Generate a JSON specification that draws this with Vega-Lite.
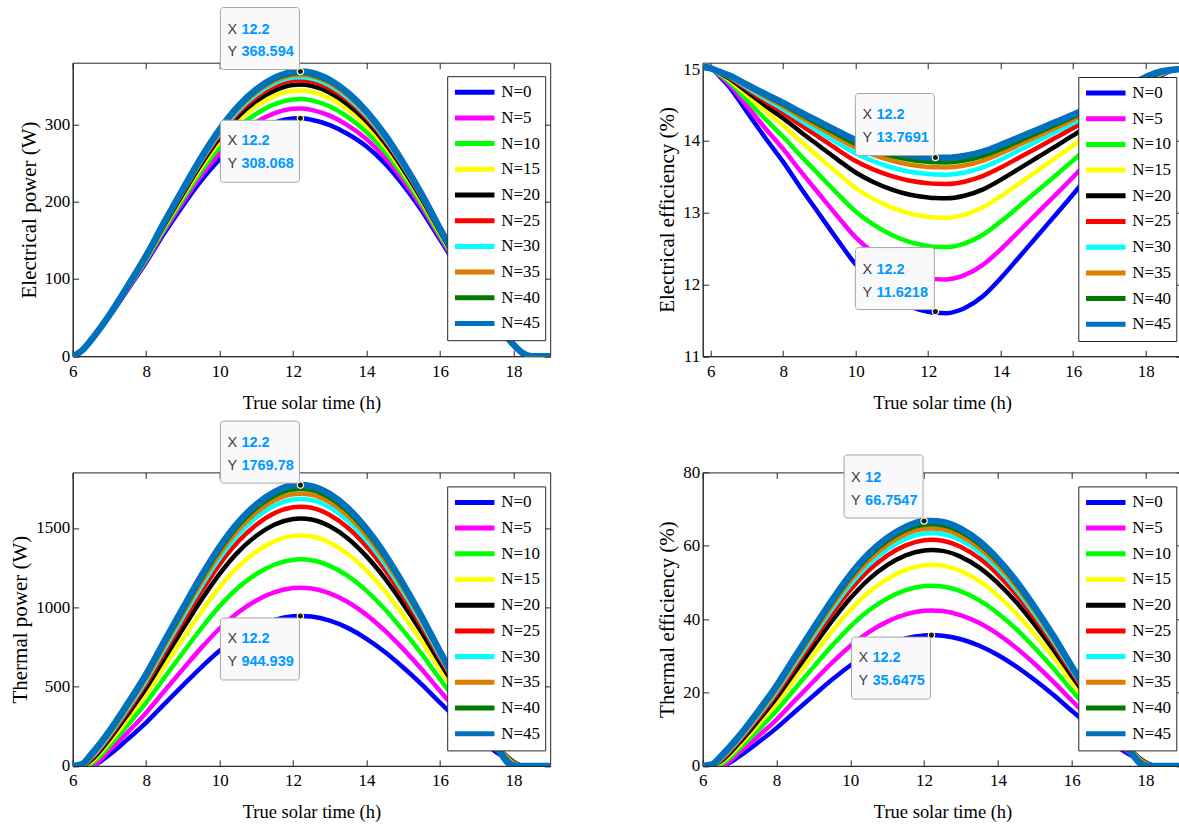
{
"$schema": "https://vega.github.io/schema/vega-lite/v6.json",
"background": "white",
"padding": {"left": 8.7, "top": 5.7, "right": 0, "bottom": 0},
"config": {
 "font": "Liberation Serif",
 "view": {"stroke": "#262626", "strokeWidth": 1},
 "axis": {"grid": false, "domainColor": "#262626", "tickColor": "#262626", "labelColor": "#000000", "labelFont": "Liberation Serif", "labelFontSize": 17, "titleFont": "Liberation Serif", "titleFontWeight": "normal", "titleColor": "#000000", "tickSize": -6, "labelFlush": false, "labelOverlap": false, "labelBound": false, "format": "d"},
 "axisX": {"titleFontSize": 18.5, "labelPadding": 13, "titlePadding": 14},
 "axisY": {"titleFontSize": 21, "labelPadding": 9, "titlePadding": 5},
 "legend": {"labelFont": "Liberation Serif", "labelFontSize": 17, "labelFontWeight": "normal", "labelColor": "#000000", "symbolType": "stroke", "symbolStrokeWidth": 5, "symbolSize": 1560, "clipHeight": 22, "rowPadding": 3.7, "padding": 5, "strokeColor": "#262626", "fillColor": "white", "labelOffset": 4, "labelLimit": 200}
},
"datasets": {
"elp": [
{"t":6,"N=0":0,"N=5":0,"N=10":0,"N=15":0,"N=20":0,"N=25":0,"N=30":0,"N=35":0,"N=40":0,"N=45":0},
{"t":6.25,"N=0":7.11,"N=5":7.12,"N=10":7.14,"N=15":7.15,"N=20":7.16,"N=25":7.17,"N=30":7.18,"N=35":7.19,"N=40":7.2,"N=45":7.21},
{"t":6.5,"N=0":20.34,"N=5":20.41,"N=10":20.48,"N=15":20.54,"N=20":20.59,"N=25":20.63,"N=30":20.67,"N=35":20.7,"N=40":20.73,"N=45":20.76},
{"t":7,"N=0":51.53,"N=5":51.89,"N=10":52.23,"N=15":52.55,"N=20":52.77,"N=25":52.96,"N=30":53.1,"N=35":53.22,"N=40":53.33,"N=45":53.43},
{"t":7.5,"N=0":86.37,"N=5":87.28,"N=10":88.16,"N=15":88.95,"N=20":89.53,"N=25":89.97,"N=30":90.29,"N=35":90.57,"N=40":90.8,"N=45":91.01},
{"t":8,"N=0":121.7,"N=5":123.4,"N=10":125.1,"N=15":126.6,"N=20":127.7,"N=25":128.5,"N=30":129.1,"N=35":129.5,"N=40":129.9,"N=45":130.3},
{"t":8.5,"N=0":159.7,"N=5":162.7,"N=10":165.5,"N=15":168.1,"N=20":169.9,"N=25":171.2,"N=30":172.2,"N=35":173.0,"N=40":173.6,"N=45":174.2},
{"t":9,"N=0":195.0,"N=5":199.4,"N=10":203.7,"N=15":207.6,"N=20":210.2,"N=25":212.3,"N=30":213.7,"N=35":214.8,"N=40":215.7,"N=45":216.5},
{"t":9.5,"N=0":227.4,"N=5":233.6,"N=10":239.6,"N=15":245.0,"N=20":248.7,"N=25":251.5,"N=30":253.4,"N=35":255.0,"N=40":256.2,"N=45":257.3},
{"t":10,"N=0":254.8,"N=5":262.9,"N=10":270.7,"N=15":277.8,"N=20":282.7,"N=25":286.3,"N=30":288.8,"N=35":290.8,"N=40":292.3,"N=45":293.7},
{"t":10.5,"N=0":276.6,"N=5":286.4,"N=10":295.8,"N=15":304.4,"N=20":310.2,"N=25":314.6,"N=30":317.6,"N=35":320.0,"N=40":321.8,"N=45":323.4},
{"t":11,"N=0":292.0,"N=5":303.2,"N=10":313.9,"N=15":323.8,"N=20":330.4,"N=25":335.4,"N=30":338.8,"N=35":341.5,"N=40":343.5,"N=45":345.4},
{"t":11.5,"N=0":302.5,"N=5":314.7,"N=10":326.4,"N=15":337.1,"N=20":344.2,"N=25":349.7,"N=30":353.4,"N=35":356.3,"N=40":358.5,"N=45":360.5},
{"t":12,"N=0":307.7,"N=5":320.4,"N=10":332.5,"N=15":343.7,"N=20":351.2,"N=25":356.8,"N=30":360.7,"N=35":363.7,"N=40":366.0,"N=45":368.1},
{"t":12.2,"N=0":308.068,"N=5":320.7,"N=10":332.9,"N=15":344.1,"N=20":351.7,"N=25":357.4,"N=30":361.2,"N=35":364.3,"N=40":366.6,"N=45":368.594},
{"t":12.5,"N=0":306.2,"N=5":318.9,"N=10":331.2,"N=15":342.4,"N=20":350.0,"N=25":355.7,"N=30":359.6,"N=35":362.6,"N=40":364.8,"N=45":367.0},
{"t":13,"N=0":299.2,"N=5":311.4,"N=10":323.2,"N=15":333.9,"N=20":341.2,"N=25":346.6,"N=30":350.4,"N=35":353.3,"N=40":355.5,"N=45":357.6},
{"t":13.5,"N=0":287.4,"N=5":298.5,"N=10":309.2,"N=15":319.1,"N=20":325.7,"N=25":330.7,"N=30":334.1,"N=35":336.8,"N=40":338.8,"N=45":340.7},
{"t":14,"N=0":271.6,"N=5":281.1,"N=10":290.2,"N=15":298.5,"N=20":304.2,"N=25":308.4,"N=30":311.3,"N=35":313.6,"N=40":315.4,"N=45":317.0},
{"t":14.5,"N=0":249.7,"N=5":257.4,"N=10":264.8,"N=15":271.6,"N=20":276.2,"N=25":279.6,"N=30":282.0,"N=35":283.9,"N=40":285.3,"N=45":286.7},
{"t":15,"N=0":221.6,"N=5":227.6,"N=10":233.3,"N=15":238.5,"N=20":242.1,"N=25":244.8,"N=30":246.6,"N=35":248.2,"N=40":249.3,"N=45":250.3},
{"t":15.5,"N=0":188.6,"N=5":193.0,"N=10":197.2,"N=15":201.1,"N=20":203.7,"N=25":205.7,"N=30":207.1,"N=35":208.2,"N=40":209.1,"N=45":209.9},
{"t":16,"N=0":151.0,"N=5":153.9,"N=10":156.7,"N=15":159.3,"N=20":161.1,"N=25":162.5,"N=30":163.4,"N=35":164.2,"N=40":164.8,"N=45":165.3},
{"t":16.5,"N=0":113.6,"N=5":115.3,"N=10":117.0,"N=15":118.5,"N=20":119.6,"N=25":120.4,"N=30":121.0,"N=35":121.5,"N=40":121.8,"N=45":122.2},
{"t":17,"N=0":76.1,"N=5":77.0,"N=10":77.8,"N=15":78.5,"N=20":79.0,"N=25":79.4,"N=30":79.7,"N=35":80.0,"N=40":80.2,"N=45":80.4},
{"t":17.5,"N=0":42.0,"N=5":42.3,"N=10":42.6,"N=15":42.8,"N=20":43.0,"N=25":43.2,"N=30":43.3,"N=35":43.4,"N=40":43.5,"N=45":43.5},
{"t":18,"N=0":14.85,"N=5":14.9,"N=10":14.95,"N=15":15.0,"N=20":15.03,"N=25":15.06,"N=30":15.09,"N=35":15.11,"N=40":15.14,"N=45":15.17},
{"t":18.25,"N=0":3.91,"N=5":3.92,"N=10":3.93,"N=15":3.94,"N=20":3.95,"N=25":3.96,"N=30":3.97,"N=35":3.98,"N=40":3.98,"N=45":3.99},
{"t":18.5,"N=0":0,"N=5":0,"N=10":0,"N=15":0,"N=20":0,"N=25":0,"N=30":0,"N=35":0,"N=40":0,"N=45":0},
{"t":19,"N=0":0,"N=5":0,"N=10":0,"N=15":0,"N=20":0,"N=25":0,"N=30":0,"N=35":0,"N=40":0,"N=45":0}
],
"ele": [
{"t":5.8,"N=0":15.06,"N=5":15.06,"N=10":15.06,"N=15":15.06,"N=20":15.06,"N=25":15.06,"N=30":15.06,"N=35":15.06,"N=40":15.05,"N=45":15.03},
{"t":6,"N=0":15.02,"N=5":15.02,"N=10":15.02,"N=15":15.02,"N=20":15.02,"N=25":15.02,"N=30":15.02,"N=35":15.02,"N=40":15.02,"N=45":15.01},
{"t":6.25,"N=0":14.898,"N=5":14.912,"N=10":14.926,"N=15":14.938,"N=20":14.946,"N=25":14.952,"N=30":14.956,"N=35":14.959,"N=40":14.961,"N=45":14.963},
{"t":6.5,"N=0":14.762,"N=5":14.795,"N=10":14.826,"N=15":14.855,"N=20":14.874,"N=25":14.888,"N=30":14.897,"N=35":14.904,"N=40":14.909,"N=45":14.914},
{"t":7,"N=0":14.405,"N=5":14.487,"N=10":14.566,"N=15":14.638,"N=20":14.685,"N=25":14.72,"N=30":14.743,"N=35":14.76,"N=40":14.773,"N=45":14.784},
{"t":7.5,"N=0":14.048,"N=5":14.18,"N=10":14.306,"N=15":14.42,"N=20":14.496,"N=25":14.552,"N=30":14.588,"N=35":14.616,"N=40":14.636,"N=45":14.654},
{"t":8,"N=0":13.708,"N=5":13.887,"N=10":14.058,"N=15":14.213,"N=20":14.316,"N=25":14.392,"N=30":14.441,"N=35":14.479,"N=40":14.506,"N=45":14.531},
{"t":8.5,"N=0":13.334,"N=5":13.564,"N=10":13.785,"N=15":13.986,"N=20":14.118,"N=25":14.216,"N=30":14.28,"N=35":14.329,"N=40":14.363,"N=45":14.395},
{"t":9,"N=0":12.977,"N=5":13.257,"N=10":13.524,"N=15":13.768,"N=20":13.929,"N=25":14.048,"N=30":14.125,"N=35":14.185,"N=40":14.226,"N=45":14.265},
{"t":9.5,"N=0":12.62,"N=5":12.949,"N=10":13.264,"N=15":13.551,"N=20":13.74,"N=25":13.88,"N=30":13.971,"N=35":14.041,"N=40":14.09,"N=45":14.136},
{"t":10,"N=0":12.28,"N=5":12.656,"N=10":13.016,"N=15":13.344,"N=20":13.56,"N=25":13.72,"N=30":13.824,"N=35":13.904,"N=40":13.96,"N=45":14.012},
{"t":10.5,"N=0":12.025,"N=5":12.436,"N=10":12.83,"N=15":13.189,"N=20":13.425,"N=25":13.6,"N=30":13.714,"N=35":13.801,"N=40":13.863,"N=45":13.919},
{"t":11,"N=0":11.831,"N=5":12.269,"N=10":12.689,"N=15":13.071,"N=20":13.322,"N=25":13.509,"N=30":13.63,"N=35":13.723,"N=40":13.788,"N=45":13.849},
{"t":11.5,"N=0":11.695,"N=5":12.152,"N=10":12.589,"N=15":12.988,"N=20":13.25,"N=25":13.445,"N=30":13.571,"N=35":13.668,"N=40":13.736,"N=45":13.8},
{"t":12,"N=0":11.62,"N=5":12.088,"N=10":12.535,"N=15":12.942,"N=20":13.211,"N=25":13.41,"N=30":13.539,"N=35":13.638,"N=40":13.708,"N=45":13.772},
{"t":12.2,"N=0":11.605,"N=5":12.074,"N=10":12.523,"N=15":12.933,"N=20":13.203,"N=25":13.402,"N=30":13.532,"N=35":13.632,"N=40":13.702,"N=45":13.767},
{"t":12.5,"N=0":11.6,"N=5":12.07,"N=10":12.52,"N=15":12.93,"N=20":13.2,"N=25":13.4,"N=30":13.53,"N=35":13.63,"N=40":13.7,"N=45":13.765},
{"t":13,"N=0":11.668,"N=5":12.129,"N=10":12.57,"N=15":12.971,"N=20":13.236,"N=25":13.432,"N=30":13.559,"N=35":13.657,"N=40":13.726,"N=45":13.79},
{"t":13.5,"N=0":11.831,"N=5":12.269,"N=10":12.689,"N=15":13.071,"N=20":13.322,"N=25":13.509,"N=30":13.63,"N=35":13.723,"N=40":13.788,"N=45":13.849},
{"t":14,"N=0":12.086,"N=5":12.489,"N=10":12.875,"N=15":13.226,"N=20":13.457,"N=25":13.629,"N=30":13.74,"N=35":13.826,"N=40":13.886,"N=45":13.942},
{"t":14.5,"N=0":12.375,"N=5":12.738,"N=10":13.085,"N=15":13.402,"N=20":13.61,"N=25":13.765,"N=30":13.865,"N=35":13.942,"N=40":13.996,"N=45":14.047},
{"t":15,"N=0":12.668,"N=5":12.99,"N=10":13.299,"N=15":13.58,"N=20":13.765,"N=25":13.902,"N=30":13.992,"N=35":14.06,"N=40":14.108,"N=45":14.153},
{"t":15.5,"N=0":12.96,"N=5":13.242,"N=10":13.512,"N=15":13.758,"N=20":13.92,"N=25":14.04,"N=30":14.118,"N=35":14.178,"N=40":14.22,"N=45":14.259},
{"t":16,"N=0":13.256,"N=5":13.497,"N=10":13.728,"N=15":13.938,"N=20":14.077,"N=25":14.179,"N=30":14.246,"N=35":14.297,"N=40":14.333,"N=45":14.366},
{"t":16.5,"N=0":13.572,"N=5":13.769,"N=10":13.958,"N=15":14.131,"N=20":14.244,"N=25":14.328,"N=30":14.383,"N=35":14.425,"N=40":14.454,"N=45":14.481},
{"t":17,"N=0":13.939,"N=5":14.086,"N=10":14.226,"N=15":14.354,"N=20":14.438,"N=25":14.501,"N=30":14.541,"N=35":14.573,"N=40":14.594,"N=45":14.615},
{"t":17.5,"N=0":14.337,"N=5":14.429,"N=10":14.516,"N=15":14.596,"N=20":14.649,"N=25":14.688,"N=30":14.713,"N=35":14.733,"N=40":14.746,"N=45":14.759},
{"t":18,"N=0":14.694,"N=5":14.736,"N=10":14.777,"N=15":14.814,"N=20":14.838,"N=25":14.856,"N=30":14.868,"N=35":14.877,"N=40":14.883,"N=45":14.889},
{"t":18.25,"N=0":14.837,"N=5":14.859,"N=10":14.881,"N=15":14.901,"N=20":14.914,"N=25":14.923,"N=30":14.929,"N=35":14.934,"N=40":14.938,"N=45":14.941},
{"t":18.5,"N=0":14.932,"N=5":14.941,"N=10":14.95,"N=15":14.959,"N=20":14.964,"N=25":14.968,"N=30":14.971,"N=35":14.973,"N=40":14.974,"N=45":14.975},
{"t":19,"N=0":15,"N=5":15,"N=10":15,"N=15":15,"N=20":15,"N=25":15,"N=30":15,"N=35":15,"N=40":15,"N=45":15}
],
"thp": [
{"t":6,"N=0":0,"N=5":0,"N=10":0,"N=15":0,"N=20":0,"N=25":0,"N=30":0,"N=35":0,"N=40":0,"N=45":0},
{"t":6.25,"N=0":0,"N=5":0,"N=10":0,"N=15":0,"N=20":0,"N=25":0,"N=30":0,"N=35":0,"N=40":3.5,"N=45":10.7},
{"t":6.5,"N=0":0,"N=5":0,"N=10":13.6,"N=15":25.6,"N=20":35.4,"N=25":43.6,"N=30":51.6,"N=35":57.7,"N=40":63.9,"N=45":71.7},
{"t":7,"N=0":70.7,"N=5":98.3,"N=10":126.4,"N=15":150.6,"N=20":168.9,"N=25":182.9,"N=30":194.3,"N=35":202.9,"N=40":211.2,"N=45":220.4},
{"t":7.5,"N=0":168.8,"N=5":213.2,"N=10":258.2,"N=15":296.6,"N=20":324.9,"N=25":345.6,"N=30":361.2,"N=35":372.6,"N=40":383.3,"N=45":394.1},
{"t":8,"N=0":272.9,"N=5":335.2,"N=10":398.2,"N=15":451.7,"N=20":490.5,"N=25":518.4,"N=30":538.3,"N=35":552.7,"N=40":566.0,"N=45":578.7},
{"t":8.5,"N=0":391.1,"N=5":473.8,"N=10":557.2,"N=15":627.9,"N=20":678.7,"N=25":714.7,"N=30":739.5,"N=35":757.4,"N=40":773.6,"N=45":788.3},
{"t":9,"N=0":507.4,"N=5":610.1,"N=10":713.5,"N=15":801.0,"N=20":863.6,"N=25":907.6,"N=30":937.3,"N=35":958.6,"N=40":977.7,"N=45":994.3},
{"t":9.5,"N=0":621.6,"N=5":743.9,"N=10":867.1,"N=15":971.2,"N=20":1045.3,"N=25":1097.2,"N=30":1131.6,"N=35":1156.2,"N=40":1178.2,"N=45":1196.7},
{"t":10,"N=0":725.7,"N=5":866.0,"N=10":1007.1,"N=15":1126.3,"N=20":1211.0,"N=25":1269.9,"N=30":1308.8,"N=35":1336.4,"N=40":1361.0,"N=45":1381.2},
{"t":10.5,"N=0":811.6,"N=5":966.6,"N=10":1122.6,"N=15":1254.2,"N=20":1347.7,"N=25":1412.5,"N=30":1454.9,"N=35":1485.1,"N=40":1511.8,"N=45":1533.5},
{"t":11,"N=0":876.3,"N=5":1042.4,"N=10":1209.6,"N=15":1350.6,"N=20":1450.6,"N=25":1519.9,"N=30":1565.0,"N=35":1597.0,"N=40":1625.3,"N=45":1648.2},
{"t":11.5,"N=0":920.7,"N=5":1094.6,"N=10":1269.4,"N=15":1416.9,"N=20":1521.4,"N=25":1593.7,"N=30":1640.7,"N=35":1674.0,"N=40":1703.4,"N=45":1727.0},
{"t":12,"N=0":943.0,"N=5":1120.6,"N=10":1299.3,"N=15":1450.0,"N=20":1556.7,"N=25":1630.6,"N=30":1678.5,"N=35":1712.5,"N=40":1742.5,"N=45":1769.7},
{"t":12.2,"N=0":944.939,"N=5":1123,"N=10":1302,"N=15":1453,"N=20":1560,"N=25":1634,"N=30":1682,"N=35":1716,"N=40":1746,"N=45":1769.78},
{"t":12.5,"N=0":941.1,"N=5":1118.5,"N=10":1296.7,"N=15":1447.1,"N=20":1553.6,"N=25":1627.3,"N=30":1675.1,"N=35":1708.9,"N=40":1738.8,"N=45":1762.6},
{"t":13,"N=0":915.3,"N=5":1087.7,"N=10":1260.9,"N=15":1407.1,"N=20":1510.6,"N=25":1582.0,"N=30":1628.4,"N=35":1661.1,"N=40":1690.0,"N=45":1712.9},
{"t":13.5,"N=0":868.3,"N=5":1031.7,"N=10":1196.0,"N=15":1334.4,"N=20":1432.4,"N=25":1499.9,"N=30":1543.6,"N=35":1574.3,"N=40":1601.4,"N=45":1622.8},
{"t":14,"N=0":801.2,"N=5":951.8,"N=10":1103.1,"N=15":1230.6,"N=20":1320.7,"N=25":1382.6,"N=30":1422.5,"N=35":1450.4,"N=40":1474.9,"N=45":1494.0},
{"t":14.5,"N=0":717.8,"N=5":852.6,"N=10":987.8,"N=15":1101.6,"N=20":1182.0,"N=25":1236.8,"N=30":1271.9,"N=35":1296.3,"N=40":1317.7,"N=45":1333.9},
{"t":15,"N=0":620.1,"N=5":736.1,"N=10":852.6,"N=15":950.4,"N=20":1019.3,"N=25":1065.9,"N=30":1095.4,"N=35":1115.7,"N=40":1133.3,"N=45":1146.3},
{"t":15.5,"N=0":513.7,"N=5":609.5,"N=10":705.4,"N=15":785.8,"N=20":842.2,"N=25":879.8,"N=30":903.3,"N=35":919.1,"N=40":932.7,"N=45":942.0},
{"t":16,"N=0":398.7,"N=5":472.5,"N=10":546.3,"N=15":607.9,"N=20":650.8,"N=25":678.7,"N=30":695.7,"N=35":706.6,"N=40":715.8,"N=45":721.2},
{"t":16.5,"N=0":288.5,"N=5":341.2,"N=10":393.8,"N=15":437.4,"N=20":467.4,"N=25":486.0,"N=30":496.7,"N=35":502.9,"N=40":507.9,"N=45":509.7},
{"t":17,"N=0":183.1,"N=5":215.7,"N=10":247.9,"N=15":274.3,"N=20":291.9,"N=25":301.7,"N=30":306.3,"N=35":308.1,"N=40":309.1,"N=45":307.3},
{"t":17.5,"N=0":92.0,"N=5":107.3,"N=10":122.0,"N=15":133.4,"N=20":140.4,"N=25":142.5,"N=30":141.9,"N=35":139.9,"N=40":137.4,"N=45":132.5},
{"t":18,"N=0":23.0,"N=5":25.1,"N=10":26.5,"N=15":26.7,"N=20":25.5,"N=25":21.8,"N=30":17.3,"N=35":12.4,"N=40":7.2,"N=45":0},
{"t":18.25,"N=0":0,"N=5":0,"N=10":0,"N=15":0,"N=20":0,"N=25":0,"N=30":0,"N=35":0,"N=40":0,"N=45":0},
{"t":18.5,"N=0":0,"N=5":0,"N=10":0,"N=15":0,"N=20":0,"N=25":0,"N=30":0,"N=35":0,"N=40":0,"N=45":0},
{"t":19,"N=0":0,"N=5":0,"N=10":0,"N=15":0,"N=20":0,"N=25":0,"N=30":0,"N=35":0,"N=40":0,"N=45":0}
],
"the": [
{"t":6,"N=0":0,"N=5":0,"N=10":0,"N=15":0,"N=20":0,"N=25":0,"N=30":0,"N=35":0,"N=40":0,"N=45":0},
{"t":6.25,"N=0":0,"N=5":0,"N=10":0,"N=15":0,"N=20":0,"N=25":0,"N=30":0,"N=35":0,"N=40":0.13,"N=45":0.4},
{"t":6.5,"N=0":0,"N=5":0,"N=10":0.51,"N=15":0.97,"N=20":1.34,"N=25":1.64,"N=30":1.95,"N=35":2.18,"N=40":2.41,"N=45":2.7},
{"t":7,"N=0":2.67,"N=5":3.71,"N=10":4.77,"N=15":5.68,"N=20":6.37,"N=25":6.9,"N=30":7.33,"N=35":7.65,"N=40":7.97,"N=45":8.31},
{"t":7.5,"N=0":6.37,"N=5":8.04,"N=10":9.74,"N=15":11.19,"N=20":12.26,"N=25":13.04,"N=30":13.63,"N=35":14.06,"N=40":14.46,"N=45":14.87},
{"t":8,"N=0":10.29,"N=5":12.64,"N=10":15.02,"N=15":17.04,"N=20":18.5,"N=25":19.56,"N=30":20.31,"N=35":20.85,"N=40":21.35,"N=45":21.83},
{"t":8.5,"N=0":14.75,"N=5":17.87,"N=10":21.02,"N=15":23.69,"N=20":25.6,"N=25":26.96,"N=30":27.9,"N=35":28.57,"N=40":29.18,"N=45":29.74},
{"t":9,"N=0":19.14,"N=5":23.01,"N=10":26.91,"N=15":30.22,"N=20":32.58,"N=25":34.24,"N=30":35.36,"N=35":36.16,"N=40":36.88,"N=45":37.51},
{"t":9.5,"N=0":23.45,"N=5":28.06,"N=10":32.71,"N=15":36.64,"N=20":39.43,"N=25":41.39,"N=30":42.69,"N=35":43.61,"N=40":44.44,"N=45":45.14},
{"t":10,"N=0":27.37,"N=5":32.67,"N=10":37.99,"N=15":42.49,"N=20":45.68,"N=25":47.9,"N=30":49.37,"N=35":50.41,"N=40":51.34,"N=45":52.1},
{"t":10.5,"N=0":30.62,"N=5":36.46,"N=10":42.35,"N=15":47.31,"N=20":50.84,"N=25":53.28,"N=30":54.88,"N=35":56.02,"N=40":57.03,"N=45":57.85},
{"t":11,"N=0":33.06,"N=5":39.32,"N=10":45.63,"N=15":50.95,"N=20":54.72,"N=25":57.33,"N=30":59.03,"N=35":60.24,"N=40":61.31,"N=45":62.17},
{"t":11.5,"N=0":34.73,"N=5":41.29,"N=10":47.88,"N=15":53.45,"N=20":57.39,"N=25":60.12,"N=30":61.89,"N=35":63.15,"N=40":64.26,"N=45":65.15},
{"t":12,"N=0":35.57,"N=5":42.27,"N=10":49.01,"N=15":54.7,"N=20":58.72,"N=25":61.51,"N=30":63.32,"N=35":64.6,"N=40":65.73,"N=45":66.7547},
{"t":12.2,"N=0":35.6475,"N=5":42.36,"N=10":49.11,"N=15":54.81,"N=20":58.85,"N=25":61.64,"N=30":63.45,"N=35":64.73,"N=40":65.86,"N=45":66.76},
{"t":12.5,"N=0":35.5,"N=5":42.19,"N=10":48.91,"N=15":54.59,"N=20":58.6,"N=25":61.38,"N=30":63.19,"N=35":64.46,"N=40":65.59,"N=45":66.49},
{"t":13,"N=0":34.53,"N=5":41.03,"N=10":47.56,"N=15":53.08,"N=20":56.98,"N=25":59.68,"N=30":61.43,"N=35":62.66,"N=40":63.75,"N=45":64.61},
{"t":13.5,"N=0":32.75,"N=5":38.92,"N=10":45.12,"N=15":50.34,"N=20":54.03,"N=25":56.58,"N=30":58.23,"N=35":59.39,"N=40":60.41,"N=45":61.21},
{"t":14,"N=0":30.22,"N=5":35.9,"N=10":41.61,"N=15":46.42,"N=20":49.82,"N=25":52.15,"N=30":53.66,"N=35":54.71,"N=40":55.64,"N=45":56.36},
{"t":14.5,"N=0":27.08,"N=5":32.16,"N=10":37.26,"N=15":41.55,"N=20":44.59,"N=25":46.65,"N=30":47.98,"N=35":48.9,"N=40":49.71,"N=45":50.32},
{"t":15,"N=0":23.39,"N=5":27.77,"N=10":32.16,"N=15":35.85,"N=20":38.45,"N=25":40.21,"N=30":41.32,"N=35":42.09,"N=40":42.75,"N=45":43.24},
{"t":15.5,"N=0":19.38,"N=5":22.99,"N=10":26.61,"N=15":29.64,"N=20":31.77,"N=25":33.19,"N=30":34.07,"N=35":34.67,"N=40":35.18,"N=45":35.53},
{"t":16,"N=0":15.04,"N=5":17.82,"N=10":20.61,"N=15":22.93,"N=20":24.55,"N=25":25.6,"N=30":26.24,"N=35":26.65,"N=40":27.0,"N=45":27.2},
{"t":16.5,"N=0":10.88,"N=5":12.87,"N=10":14.85,"N=15":16.5,"N=20":17.63,"N=25":18.33,"N=30":18.74,"N=35":18.97,"N=40":19.16,"N=45":19.23},
{"t":17,"N=0":6.91,"N=5":8.14,"N=10":9.35,"N=15":10.35,"N=20":11.01,"N=25":11.38,"N=30":11.55,"N=35":11.62,"N=40":11.66,"N=45":11.59},
{"t":17.5,"N=0":3.47,"N=5":4.05,"N=10":4.6,"N=15":5.03,"N=20":5.3,"N=25":5.38,"N=30":5.35,"N=35":5.28,"N=40":5.18,"N=45":5.0},
{"t":18,"N=0":0.87,"N=5":0.95,"N=10":1.0,"N=15":1.01,"N=20":0.96,"N=25":0.82,"N=30":0.65,"N=35":0.47,"N=40":0.27,"N=45":0},
{"t":18.25,"N=0":0,"N=5":0,"N=10":0,"N=15":0,"N=20":0,"N=25":0,"N=30":0,"N=35":0,"N=40":0,"N=45":0},
{"t":18.5,"N=0":0,"N=5":0,"N=10":0,"N=15":0,"N=20":0,"N=25":0,"N=30":0,"N=35":0,"N=40":0,"N=45":0},
{"t":19,"N=0":0,"N=5":0,"N=10":0,"N=15":0,"N=20":0,"N=25":0,"N=30":0,"N=35":0,"N=40":0,"N=45":0}
],
"tips1": [{"t":12.2,"v":368.594,"dir":"up","vals":["12.2","368.594"]},{"t":12.2,"v":308.068,"dir":"down","vals":["12.2","308.068"]}],
"tips2": [{"t":12.2,"v":13.7691,"dir":"up","vals":["12.2","13.7691"]},{"t":12.2,"v":11.6218,"dir":"up","vals":["12.2","11.6218"]}],
"tips3": [{"t":12.2,"v":1769.78,"dir":"up","vals":["12.2","1769.78"]},{"t":12.2,"v":944.939,"dir":"down","vals":["12.2","944.939"]}],
"tips4": [{"t":12,"v":66.7547,"dir":"up","vals":["12","66.7547"]},{"t":12.2,"v":35.6475,"dir":"down","vals":["12.2","35.6475"]}]
},
"concat": [
{
 "width": 477.5, "height": 293.5,
 "layer": [
  {"data": {"name": "elp"}, "transform": [{"fold": ["N=0","N=5","N=10","N=15","N=20","N=25","N=30","N=35","N=40","N=45"], "as": ["series","value"]}],
   "mark": {"type": "line", "interpolate": "monotone", "clip": true},
   "encoding": {
    "x": {"field": "t", "type": "quantitative", "scale": {"domain": [6,19], "nice": false, "zero": false}, "axis": {"values": [6,8,10,12,14,16,18], "title": "True solar time (h)"}},
    "y": {"field": "value", "type": "quantitative", "scale": {"domain": [0,380], "nice": false, "zero": false}, "axis": {"values": [0,100,200,300], "title": "Electrical power (W)"}},
    "color": {"field": "series", "type": "nominal", "scale": {"domain": ["N=0","N=5","N=10","N=15","N=20","N=25","N=30","N=35","N=40","N=45"], "range": ["#0000FF","#FF00FF","#00FF00","#FFFF00","#000000","#FF0000","#00FFFF","#DE7D00","#007A00","#0072BD"]}, "legend": {"title": null, "orient": "none", "legendX": 374.5, "legendY": 13.5, "labelFont": "Liberation Serif"}},
    "strokeWidth": {"condition": {"test": "datum.series === 'N=45'", "value": 6.5}, "value": 4.5}
   }},
  {"data": {"name": "tips1"}, "transform": [{"filter": "datum.dir === 'up'"}],
   "mark": {"type": "rect", "fill": "#F9F9FC", "stroke": "#A6A6A6", "strokeWidth": 1, "cornerRadius": 3, "xOffset": -80, "x2Offset": -1, "yOffset": -64, "y2Offset": -2},
   "encoding": {"x": {"field": "t", "type": "quantitative", "axis": null}, "x2": {"field": "t"}, "y": {"field": "v", "type": "quantitative", "axis": null}, "y2": {"field": "v"}}},
  {"data": {"name": "tips1"}, "transform": [{"filter": "datum.dir === 'down'"}],
   "mark": {"type": "rect", "fill": "#F9F9FC", "stroke": "#A6A6A6", "strokeWidth": 1, "cornerRadius": 3, "xOffset": -80, "x2Offset": -1, "yOffset": 2, "y2Offset": 64},
   "encoding": {"x": {"field": "t", "type": "quantitative", "axis": null}, "x2": {"field": "t"}, "y": {"field": "v", "type": "quantitative", "axis": null}, "y2": {"field": "v"}}},
  {"data": {"name": "tips1"}, "transform": [{"filter": "datum.dir === 'up'"}],
   "mark": {"type": "text", "text": ["X","Y"], "align": "left", "baseline": "alphabetic", "dx": -73, "dy": -38, "lineHeight": 23, "font": "Liberation Sans", "fontSize": 14.5, "fill": "#404040"},
   "encoding": {"x": {"field": "t", "type": "quantitative", "axis": null}, "y": {"field": "v", "type": "quantitative", "axis": null}}},
  {"data": {"name": "tips1"}, "transform": [{"filter": "datum.dir === 'down'"}],
   "mark": {"type": "text", "text": ["X","Y"], "align": "left", "baseline": "alphabetic", "dx": -73, "dy": 27, "lineHeight": 23, "font": "Liberation Sans", "fontSize": 14.5, "fill": "#404040"},
   "encoding": {"x": {"field": "t", "type": "quantitative", "axis": null}, "y": {"field": "v", "type": "quantitative", "axis": null}}},
  {"data": {"name": "tips1"}, "transform": [{"filter": "datum.dir === 'up'"}],
   "mark": {"type": "text", "align": "left", "baseline": "alphabetic", "dx": -59, "dy": -38, "lineHeight": 23, "font": "Liberation Sans", "fontSize": 14.5, "fontWeight": "bold", "fill": "#0099FF"},
   "encoding": {"x": {"field": "t", "type": "quantitative", "axis": null}, "y": {"field": "v", "type": "quantitative", "axis": null}, "text": {"field": "vals", "type": "nominal"}}},
  {"data": {"name": "tips1"}, "transform": [{"filter": "datum.dir === 'down'"}],
   "mark": {"type": "text", "align": "left", "baseline": "alphabetic", "dx": -59, "dy": 27, "lineHeight": 23, "font": "Liberation Sans", "fontSize": 14.5, "fontWeight": "bold", "fill": "#0099FF"},
   "encoding": {"x": {"field": "t", "type": "quantitative", "axis": null}, "y": {"field": "v", "type": "quantitative", "axis": null}, "text": {"field": "vals", "type": "nominal"}}},
  {"data": {"name": "tips1"},
   "mark": {"type": "point", "shape": "circle", "filled": true, "size": 40, "fill": "#1A1A1A", "stroke": "#FFFFCC", "strokeWidth": 1.2, "opacity": 1},
   "encoding": {
    "x": {"field": "t", "type": "quantitative", "axis": {"orient": "top", "labels": false, "title": null, "domain": false, "values": [6,8,10,12,14,16,18]}},
    "y": {"field": "v", "type": "quantitative", "axis": {"orient": "right", "labels": false, "title": null, "domain": false, "values": [0,100,200,300]}}}}
 ],
 "resolve": {"axis": {"x": "independent", "y": "independent"}}
},
{
 "width": 479.2, "height": 293.5,
 "layer": [
  {"data": {"name": "ele"}, "transform": [{"fold": ["N=0","N=5","N=10","N=15","N=20","N=25","N=30","N=35","N=40","N=45"], "as": ["series","value"]}],
   "mark": {"type": "line", "interpolate": "monotone", "clip": true},
   "encoding": {
    "x": {"field": "t", "type": "quantitative", "scale": {"domain": [5.78,19], "nice": false, "zero": false}, "axis": {"values": [6,8,10,12,14,16,18], "title": "True solar time (h)"}},
    "y": {"field": "value", "type": "quantitative", "scale": {"domain": [11,15.09], "nice": false, "zero": false}, "axis": {"values": [11,12,13,14,15], "title": "Electrical efficiency (%)"}},
    "color": {"field": "series", "type": "nominal", "scale": {"domain": ["N=0","N=5","N=10","N=15","N=20","N=25","N=30","N=35","N=40","N=45"], "range": ["#0000FF","#FF00FF","#00FF00","#FFFF00","#000000","#FF0000","#00FFFF","#DE7D00","#007A00","#0072BD"]}, "legend": {"title": null, "orient": "none", "legendX": 375.6, "legendY": 14.3, "labelFont": "Liberation Serif"}},
    "strokeWidth": {"condition": {"test": "datum.series === 'N=45'", "value": 6.5}, "value": 4.5}
   }},
  {"data": {"name": "tips2"},
   "mark": {"type": "rect", "fill": "#F9F9FC", "stroke": "#A6A6A6", "strokeWidth": 1, "cornerRadius": 3, "xOffset": -80, "x2Offset": -1, "yOffset": -64, "y2Offset": -2},
   "encoding": {"x": {"field": "t", "type": "quantitative", "axis": null}, "x2": {"field": "t"}, "y": {"field": "v", "type": "quantitative", "axis": null}, "y2": {"field": "v"}}},
  {"data": {"name": "tips2"},
   "mark": {"type": "text", "text": ["X","Y"], "align": "left", "baseline": "alphabetic", "dx": -73, "dy": -38, "lineHeight": 23, "font": "Liberation Sans", "fontSize": 14.5, "fill": "#404040"},
   "encoding": {"x": {"field": "t", "type": "quantitative", "axis": null}, "y": {"field": "v", "type": "quantitative", "axis": null}}},
  {"data": {"name": "tips2"},
   "mark": {"type": "text", "align": "left", "baseline": "alphabetic", "dx": -59, "dy": -38, "lineHeight": 23, "font": "Liberation Sans", "fontSize": 14.5, "fontWeight": "bold", "fill": "#0099FF"},
   "encoding": {"x": {"field": "t", "type": "quantitative", "axis": null}, "y": {"field": "v", "type": "quantitative", "axis": null}, "text": {"field": "vals", "type": "nominal"}}},
  {"data": {"name": "tips2"},
   "mark": {"type": "point", "shape": "circle", "filled": true, "size": 40, "fill": "#1A1A1A", "stroke": "#FFFFCC", "strokeWidth": 1.2, "opacity": 1},
   "encoding": {
    "x": {"field": "t", "type": "quantitative", "axis": {"orient": "top", "labels": false, "title": null, "domain": false, "values": [6,8,10,12,14,16,18]}},
    "y": {"field": "v", "type": "quantitative", "axis": {"orient": "right", "labels": false, "title": null, "domain": false, "values": [11,12,13,14,15]}}}}
 ],
 "resolve": {"axis": {"x": "independent", "y": "independent"}}
},
{
 "width": 477.5, "height": 293.5,
 "layer": [
  {"data": {"name": "thp"}, "transform": [{"fold": ["N=0","N=5","N=10","N=15","N=20","N=25","N=30","N=35","N=40","N=45"], "as": ["series","value"]}],
   "mark": {"type": "line", "interpolate": "monotone", "clip": true},
   "encoding": {
    "x": {"field": "t", "type": "quantitative", "scale": {"domain": [6,19], "nice": false, "zero": false}, "axis": {"values": [6,8,10,12,14,16,18], "title": "True solar time (h)"}},
    "y": {"field": "value", "type": "quantitative", "scale": {"domain": [0,1850], "nice": false, "zero": false}, "axis": {"values": [0,500,1000,1500], "title": "Thermal power (W)"}},
    "color": {"field": "series", "type": "nominal", "scale": {"domain": ["N=0","N=5","N=10","N=15","N=20","N=25","N=30","N=35","N=40","N=45"], "range": ["#0000FF","#FF00FF","#00FF00","#FFFF00","#000000","#FF0000","#00FFFF","#DE7D00","#007A00","#0072BD"]}, "legend": {"title": null, "orient": "none", "legendX": 374.5, "legendY": 14, "labelFont": "Liberation Serif"}},
    "strokeWidth": {"condition": {"test": "datum.series === 'N=45'", "value": 6.5}, "value": 4.5}
   }},
  {"data": {"name": "tips3"}, "transform": [{"filter": "datum.dir === 'up'"}],
   "mark": {"type": "rect", "fill": "#F9F9FC", "stroke": "#A6A6A6", "strokeWidth": 1, "cornerRadius": 3, "xOffset": -80, "x2Offset": -1, "yOffset": -64, "y2Offset": -2},
   "encoding": {"x": {"field": "t", "type": "quantitative", "axis": null}, "x2": {"field": "t"}, "y": {"field": "v", "type": "quantitative", "axis": null}, "y2": {"field": "v"}}},
  {"data": {"name": "tips3"}, "transform": [{"filter": "datum.dir === 'down'"}],
   "mark": {"type": "rect", "fill": "#F9F9FC", "stroke": "#A6A6A6", "strokeWidth": 1, "cornerRadius": 3, "xOffset": -80, "x2Offset": -1, "yOffset": 2, "y2Offset": 64},
   "encoding": {"x": {"field": "t", "type": "quantitative", "axis": null}, "x2": {"field": "t"}, "y": {"field": "v", "type": "quantitative", "axis": null}, "y2": {"field": "v"}}},
  {"data": {"name": "tips3"}, "transform": [{"filter": "datum.dir === 'up'"}],
   "mark": {"type": "text", "text": ["X","Y"], "align": "left", "baseline": "alphabetic", "dx": -73, "dy": -38, "lineHeight": 23, "font": "Liberation Sans", "fontSize": 14.5, "fill": "#404040"},
   "encoding": {"x": {"field": "t", "type": "quantitative", "axis": null}, "y": {"field": "v", "type": "quantitative", "axis": null}}},
  {"data": {"name": "tips3"}, "transform": [{"filter": "datum.dir === 'down'"}],
   "mark": {"type": "text", "text": ["X","Y"], "align": "left", "baseline": "alphabetic", "dx": -73, "dy": 27, "lineHeight": 23, "font": "Liberation Sans", "fontSize": 14.5, "fill": "#404040"},
   "encoding": {"x": {"field": "t", "type": "quantitative", "axis": null}, "y": {"field": "v", "type": "quantitative", "axis": null}}},
  {"data": {"name": "tips3"}, "transform": [{"filter": "datum.dir === 'up'"}],
   "mark": {"type": "text", "align": "left", "baseline": "alphabetic", "dx": -59, "dy": -38, "lineHeight": 23, "font": "Liberation Sans", "fontSize": 14.5, "fontWeight": "bold", "fill": "#0099FF"},
   "encoding": {"x": {"field": "t", "type": "quantitative", "axis": null}, "y": {"field": "v", "type": "quantitative", "axis": null}, "text": {"field": "vals", "type": "nominal"}}},
  {"data": {"name": "tips3"}, "transform": [{"filter": "datum.dir === 'down'"}],
   "mark": {"type": "text", "align": "left", "baseline": "alphabetic", "dx": -59, "dy": 27, "lineHeight": 23, "font": "Liberation Sans", "fontSize": 14.5, "fontWeight": "bold", "fill": "#0099FF"},
   "encoding": {"x": {"field": "t", "type": "quantitative", "axis": null}, "y": {"field": "v", "type": "quantitative", "axis": null}, "text": {"field": "vals", "type": "nominal"}}},
  {"data": {"name": "tips3"},
   "mark": {"type": "point", "shape": "circle", "filled": true, "size": 40, "fill": "#1A1A1A", "stroke": "#FFFFCC", "strokeWidth": 1.2, "opacity": 1},
   "encoding": {
    "x": {"field": "t", "type": "quantitative", "axis": {"orient": "top", "labels": false, "title": null, "domain": false, "values": [6,8,10,12,14,16,18]}},
    "y": {"field": "v", "type": "quantitative", "axis": {"orient": "right", "labels": false, "title": null, "domain": false, "values": [0,500,1000,1500]}}}}
 ],
 "resolve": {"axis": {"x": "independent", "y": "independent"}}
},
{
 "width": 479.7, "height": 293.5,
 "layer": [
  {"data": {"name": "the"}, "transform": [{"fold": ["N=0","N=5","N=10","N=15","N=20","N=25","N=30","N=35","N=40","N=45"], "as": ["series","value"]}],
   "mark": {"type": "line", "interpolate": "monotone", "clip": true},
   "encoding": {
    "x": {"field": "t", "type": "quantitative", "scale": {"domain": [6,19], "nice": false, "zero": false}, "axis": {"values": [6,8,10,12,14,16,18], "title": "True solar time (h)"}},
    "y": {"field": "value", "type": "quantitative", "scale": {"domain": [0,80], "nice": false, "zero": false}, "axis": {"values": [0,20,40,60,80], "title": "Thermal efficiency (%)"}},
    "color": {"field": "series", "type": "nominal", "scale": {"domain": ["N=0","N=5","N=10","N=15","N=20","N=25","N=30","N=35","N=40","N=45"], "range": ["#0000FF","#FF00FF","#00FF00","#FFFF00","#000000","#FF0000","#00FFFF","#DE7D00","#007A00","#0072BD"]}, "legend": {"title": null, "orient": "none", "legendX": 375.6, "legendY": 14, "labelFont": "Liberation Serif"}},
    "strokeWidth": {"condition": {"test": "datum.series === 'N=45'", "value": 6.5}, "value": 4.5}
   }},
  {"data": {"name": "tips4"}, "transform": [{"filter": "datum.dir === 'up'"}],
   "mark": {"type": "rect", "fill": "#F9F9FC", "stroke": "#A6A6A6", "strokeWidth": 1, "cornerRadius": 3, "xOffset": -80, "x2Offset": -1, "yOffset": -66, "y2Offset": -3},
   "encoding": {"x": {"field": "t", "type": "quantitative", "axis": null}, "x2": {"field": "t"}, "y": {"field": "v", "type": "quantitative", "axis": null}, "y2": {"field": "v"}}},
  {"data": {"name": "tips4"}, "transform": [{"filter": "datum.dir === 'down'"}],
   "mark": {"type": "rect", "fill": "#F9F9FC", "stroke": "#A6A6A6", "strokeWidth": 1, "cornerRadius": 3, "xOffset": -80, "x2Offset": -1, "yOffset": 2, "y2Offset": 64},
   "encoding": {"x": {"field": "t", "type": "quantitative", "axis": null}, "x2": {"field": "t"}, "y": {"field": "v", "type": "quantitative", "axis": null}, "y2": {"field": "v"}}},
  {"data": {"name": "tips4"}, "transform": [{"filter": "datum.dir === 'up'"}],
   "mark": {"type": "text", "text": ["X","Y"], "align": "left", "baseline": "alphabetic", "dx": -73, "dy": -39, "lineHeight": 23, "font": "Liberation Sans", "fontSize": 14.5, "fill": "#404040"},
   "encoding": {"x": {"field": "t", "type": "quantitative", "axis": null}, "y": {"field": "v", "type": "quantitative", "axis": null}}},
  {"data": {"name": "tips4"}, "transform": [{"filter": "datum.dir === 'down'"}],
   "mark": {"type": "text", "text": ["X","Y"], "align": "left", "baseline": "alphabetic", "dx": -73, "dy": 27, "lineHeight": 23, "font": "Liberation Sans", "fontSize": 14.5, "fill": "#404040"},
   "encoding": {"x": {"field": "t", "type": "quantitative", "axis": null}, "y": {"field": "v", "type": "quantitative", "axis": null}}},
  {"data": {"name": "tips4"}, "transform": [{"filter": "datum.dir === 'up'"}],
   "mark": {"type": "text", "align": "left", "baseline": "alphabetic", "dx": -59, "dy": -39, "lineHeight": 23, "font": "Liberation Sans", "fontSize": 14.5, "fontWeight": "bold", "fill": "#0099FF"},
   "encoding": {"x": {"field": "t", "type": "quantitative", "axis": null}, "y": {"field": "v", "type": "quantitative", "axis": null}, "text": {"field": "vals", "type": "nominal"}}},
  {"data": {"name": "tips4"}, "transform": [{"filter": "datum.dir === 'down'"}],
   "mark": {"type": "text", "align": "left", "baseline": "alphabetic", "dx": -59, "dy": 27, "lineHeight": 23, "font": "Liberation Sans", "fontSize": 14.5, "fontWeight": "bold", "fill": "#0099FF"},
   "encoding": {"x": {"field": "t", "type": "quantitative", "axis": null}, "y": {"field": "v", "type": "quantitative", "axis": null}, "text": {"field": "vals", "type": "nominal"}}},
  {"data": {"name": "tips4"},
   "mark": {"type": "point", "shape": "circle", "filled": true, "size": 40, "fill": "#1A1A1A", "stroke": "#FFFFCC", "strokeWidth": 1.2, "opacity": 1},
   "encoding": {
    "x": {"field": "t", "type": "quantitative", "axis": {"orient": "top", "labels": false, "title": null, "domain": false, "values": [6,8,10,12,14,16,18]}},
    "y": {"field": "v", "type": "quantitative", "axis": {"orient": "right", "labels": false, "title": null, "domain": false, "values": [0,20,40,60,80]}}}}
 ],
 "resolve": {"axis": {"x": "independent", "y": "independent"}}
}
],
"columns": 2,
"spacing": {"row": 115.7, "column": 152},
"bounds": "flush",
"align": "each",
"resolve": {"scale": {"color": "independent"}}
}
